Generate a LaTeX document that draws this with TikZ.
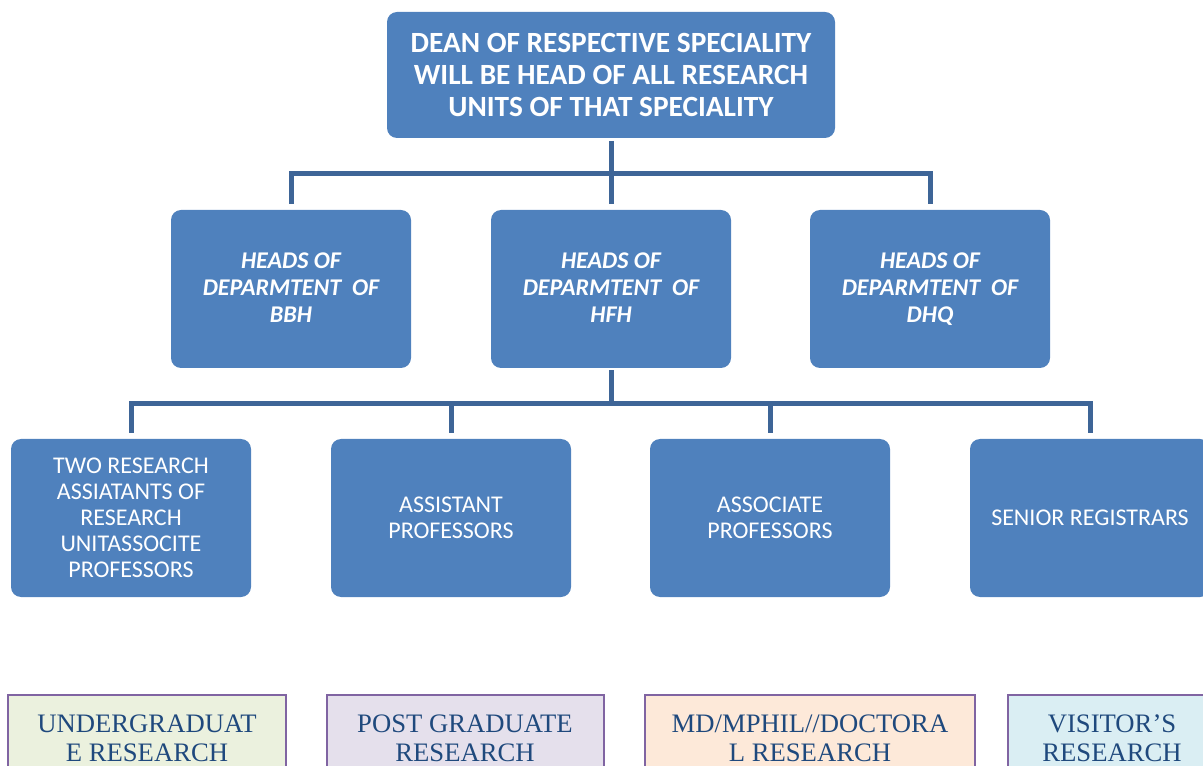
\documentclass[tikz,border=0pt]{standalone}
\usepackage{fontspec}
\setmainfont{Carlito}
\newfontfamily\stageface{Liberation Serif}
\usetikzlibrary{positioning}

\definecolor{unitblue}{HTML}{4F81BD}
\definecolor{linkblue}{HTML}{3E6597}
\definecolor{stageline}{HTML}{8064A2}
\definecolor{stagetext}{HTML}{1F497D}
\definecolor{ugfill}{HTML}{EBF1DE}
\definecolor{pgfill}{HTML}{E5E0EC}
\definecolor{mdfill}{HTML}{FDE9D9}
\definecolor{visfill}{HTML}{DAEEF3}

\begin{document}
\begin{tikzpicture}
    [x=0.75pt, y=-0.75pt,
     unitbox/.style={fill=unitblue, text=white, rounded corners=7.5pt,
       align=center, inner sep=0pt},
     deanbox/.style={unitbox, minimum width=336pt, minimum height=94.5pt,
       font=\fontsize{22}{24}\selectfont\bfseries},
     headbox/.style={unitbox, minimum width=180pt, minimum height=118.5pt,
       font=\fontsize{18}{20}\selectfont\bfseries\itshape},
     staffbox/.style={unitbox, minimum width=180pt, minimum height=118.5pt,
       font=\fontsize{18}{19.5}\selectfont},
     stagebox/.style={draw=stageline, line width=1.5pt, anchor=north,
       text=stagetext, align=center, inner ysep=15pt,
       font=\stageface\fontsize{20}{21.5}\selectfont},
     link/.style={draw=linkblue, line width=3.75pt}]

    \useasboundingbox (0,0) rectangle (1203,766);

    % top of the tree
    \node[deanbox] (dean) at (611,75)
      {DEAN OF RESPECTIVE SPECIALITY\\WILL BE HEAD OF ALL RESEARCH\\UNITS OF THAT SPECIALITY};

    % heads of department
    \node[headbox] (bbh) at (291,289) {HEADS OF\\DEPARMTENT\ \ OF\\BBH\vphantom{Q}};
    \node[headbox] (hfh) at (611,289) {HEADS OF\\DEPARMTENT\ \ OF\\HFH\vphantom{Q}};
    \node[headbox] (dhq) at (930,289) {HEADS OF\\DEPARMTENT\ \ OF\\DHQ};

    % staff of the research units
    \node[staffbox] (ra)  at (131,518)
      {TWO RESEARCH\\ASSIATANTS OF\\RESEARCH\\UNITASSOCITE\\PROFESSORS};
    \node[staffbox] (ap)  at (451,518) {ASSISTANT\\PROFESSORS};
    \node[staffbox] (asp) at (770,518) {ASSOCIATE\\PROFESSORS};
    \node[staffbox] (sr)  at (1090,518) {SENIOR REGISTRARS};

    % kinds of research
    \node[stagebox, fill=ugfill,  minimum width=208.5pt] (ug)  at (147,694)
      {UNDERGRADUAT\\E RESEARCH};
    \node[stagebox, fill=pgfill,  minimum width=207.75pt] (pg)  at (465,694)
      {POST GRADUATE\\RESEARCH};
    \node[stagebox, fill=mdfill,  minimum width=247.5pt] (md)  at (810,694)
      {MD/MPHIL//DOCTORA\\L RESEARCH};
    \node[stagebox, fill=visfill, minimum width=156pt] (vis) at (1112,694)
      {VISITOR’S\\RESEARCH};

    % connectors
    \coordinate (topbus) at (611,174);
    \coordinate (lowbus) at (611,404);

    \draw[link, shorten <=2pt, shorten >=4.5pt] (dean.south) -- (hfh.north);
    \draw[link, shorten <=4.5pt, shorten >=4.5pt] (bbh.north) |- (topbus) -| (dhq.north);

    \draw[link, shorten <=1.5pt] (hfh.south) -- (lowbus);
    \draw[link, shorten <=4.5pt, shorten >=4.5pt] (ra.north) |- (lowbus) -| (sr.north);
    \draw[link, shorten <=4.5pt] (ap.north) -- (ap.north |- lowbus);
    \draw[link, shorten <=4.5pt] (asp.north) -- (asp.north |- lowbus);

\end{tikzpicture}
\end{document}
